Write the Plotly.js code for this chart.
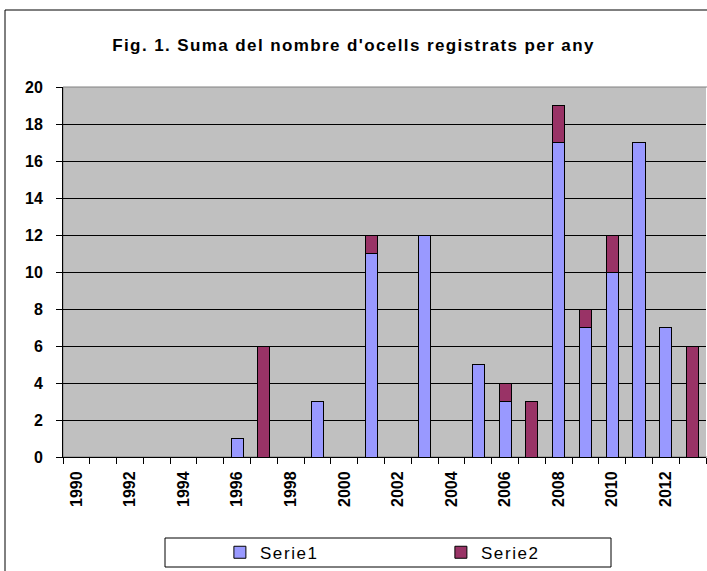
<!DOCTYPE html>
<html>
<head>
<meta charset="utf-8">
<script src="https://cdn.plot.ly/plotly-3.0.1.min.js"></script>
<style>
html,body{margin:0;padding:0;background:#fff;}
#chart{width:707px;height:571px;}
#chart .gtitle{letter-spacing:1.4px;}
#chart .legendtext{letter-spacing:1.6px;}
</style>
</head>
<body>
<div id="chart"></div>
<script>
const years = [1990,1991,1992,1993,1994,1995,1996,1997,1998,1999,2000,2001,2002,2003,2004,2005,2006,2007,2008,2009,2010,2011,2012,2013];
const serie1 = [0,0,0,0,0,0,1,0,0,3,0,11,0,12,0,5,3,0,17,7,10,17,7,0];
const serie2 = [0,0,0,0,0,0,0,6,0,0,0,1,0,0,0,0,1,3,2,1,2,0,0,6];
const tickLabels = ['1990','1992','1994','1996','1998','2000','2002','2004','2006','2008','2010','2012'];
const tickYears = [1990,1992,1994,1996,1998,2000,2002,2004,2006,2008,2010,2012];
const boundaries = years.map(y => y - 0.5).concat([years[years.length-1] + 0.5]);

const font = 'Liberation Sans, Arial, sans-serif';
const traces = [
  {type:'bar', name:'Serie1', x:years, y:serie1, marker:{color:'#9999FF', line:{color:'#000', width:1}}},
  {type:'bar', name:'Serie2', x:years, y:serie2, marker:{color:'#993366', line:{color:'#000', width:1}}}
];
const layout = {
  width:707, height:571,
  margin:{l:63, r:1, t:87, b:114, autoexpand:false},
  paper_bgcolor:'#fff', plot_bgcolor:'#C0C0C0',
  barmode:'stack', bargap:0.55,
  showlegend:true,
  font:{family:font, color:'#000'},
  title:{text:"<b>Fig. 1. Suma del nombre d'ocells registrats per any</b>", font:{family:font, size:17, color:'#000'},
         x:0.5, xref:'container', xanchor:'center', y:1-45/571, yref:'container', yanchor:'middle'},
  xaxis:{automargin:false, range:[1989.5, 2013.5], tickmode:'array', tickvals:tickYears, ticktext:tickLabels.map(t=>'<b>'+t+'</b>'),
         tickangle:-90, ticks:'', ticklabelstandoff:7, tickfont:{family:font, size:16, color:'#000'},
         showline:true, linecolor:'#000', linewidth:1, showgrid:false, zeroline:false,
         minor:{tickmode:'array', tickvals:boundaries, ticks:'outside', ticklen:6, tickcolor:'#000', showgrid:false}},
  yaxis:{automargin:false, range:[0,20], dtick:2, tick0:0, ticks:'outside', ticklen:6, tickcolor:'#000', ticklabelstandoff:10,
         tickfont:{family:font, size:16, color:'#000'}, tickprefix:'<b>', ticksuffix:'</b>',
         showline:true, linecolor:'#000', linewidth:1, showgrid:true, gridcolor:'#000', gridwidth:1, zeroline:false},
  legend:{orientation:'h', x:0.244, xanchor:'left', y:-0.21, yanchor:'top', bgcolor:'rgba(0,0,0,0)', borderwidth:0,
          font:{family:font, size:17, color:'#000'}, entrywidth:176, entrywidthmode:'pixels', traceorder:'normal'},
  shapes:[
    {type:'rect', xref:'paper', yref:'paper', x0:-58/643, x1:1.2, y0:-0.5, y1:447/370, line:{color:'#000', width:1}, fillcolor:'rgba(0,0,0,0)', layer:'below'},
    {type:'rect', xref:'paper', yref:'paper', x0:102/643, x1:548/643, y0:(457-567)/370, y1:(457-538)/370, line:{color:'#000', width:1}, fillcolor:'#fff', layer:'below'},
    {type:'rect', xref:'paper', yref:'paper', x0:0, x1:1.01, y0:0, y1:1, line:{color:'#808080', width:1}, fillcolor:'rgba(0,0,0,0)', layer:'below'}
  ]
};
Plotly.newPlot('chart', traces, layout, {displayModeBar:false, staticPlot:true});
</script>
</body>
</html>
